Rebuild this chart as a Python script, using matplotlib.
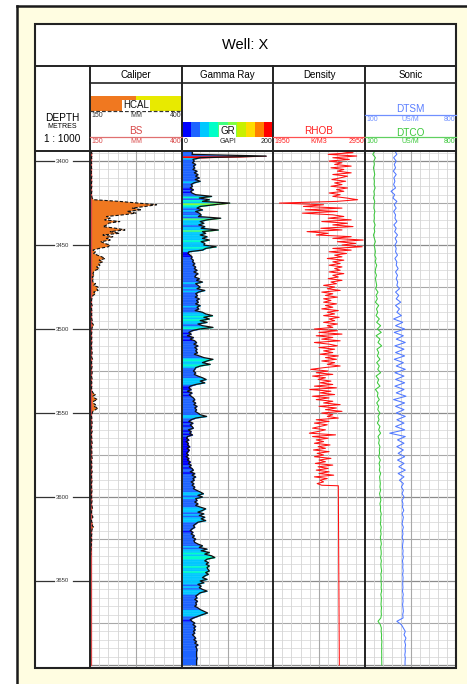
import numpy as np
import matplotlib
matplotlib.use("Agg")
import matplotlib.pyplot as plt
from matplotlib.patches import Rectangle

plt.rcParams['font.family'] = ['Liberation Sans', 'DejaVu Sans']

# ---------------------------------------------------------------- data
well_name = "Well: X"
track_names = ["Caliper", "Gamma Ray", "Density", "Sonic"]
depth_labels = [3400, 3450, 3500, 3550, 3600, 3650]

# 1 m sampled curves, 3394 m .. 3700 m
gr = [
    21, 23, 22, 185, 40, 24, 27, 23, 30, 25,
    28, 24, 33, 27, 35, 30, 38, 29, 40, 26,
    20, 23, 18, 25, 19, 22, 30, 65, 38, 60,
    45, 105, 70, 40, 33, 45, 30, 38, 42, 36,
    85, 55, 40, 48, 37, 50, 42, 80, 45, 52,
    40, 55, 45, 60, 42, 50, 48, 75, 52, 45,
    15, 13, 18, 22, 20, 25, 23, 28, 24, 30,
    27, 33, 26, 35, 30, 28, 38, 32, 45, 30,
    35, 40, 33, 50, 36, 30, 34, 29, 38, 32,
    36, 30, 40, 33, 37, 29, 45, 52, 67, 48,
    60, 40, 55, 35, 45, 68, 38, 22, 15, 20,
    12, 25, 18, 28, 32, 26, 35, 28, 33, 30,
    34, 27, 38, 48, 68, 55, 45, 62, 40, 30,
    28, 25, 30, 27, 35, 45, 53, 40, 50, 30,
    18, 15, 20, 12, 22, 16, 20, 25, 28, 24,
    30, 26, 33, 28, 32, 29, 35, 40, 54, 30,
    20, 15, 24, 18, 22, 25, 14, 20, 17, 23,
    12, 10, 15, 9, 14, 12, 17, 11, 16, 13,
    10, 14, 9, 15, 12, 18, 14, 20, 16, 22,
    25, 18, 28, 22, 30, 24, 27, 20, 26, 22,
    28, 25, 32, 40, 47, 35, 45, 30, 33, 28,
    35, 30, 40, 52, 45, 35, 48, 38, 50, 42,
    52, 35, 30, 25, 28, 22, 18, 24, 20, 27,
    23, 30, 26, 28, 35, 45, 38, 55, 42, 60,
    50, 65, 72, 55, 50, 58, 53, 60, 55, 57,
    60, 52, 58, 50, 45, 55, 40, 48, 35, 42,
    38, 45, 55, 40, 35, 30, 33, 28, 34, 30,
    32, 28, 35, 40, 48, 56, 45, 35, 25, 18,
    22, 28, 24, 30, 26, 29, 25, 28, 23, 27,
    30, 26, 32, 28, 35, 30, 32, 33, 32, 32,
    32, 32, 33, 32, 32, 32, 32,
]

hcal = [
    155, 154, 156, 155, 154, 155, 153, 154, 155, 154,
    154, 155, 154, 153, 154, 155, 154, 154, 155, 154,
    154, 155, 154, 153, 155, 154, 154, 155, 156, 160,
    230, 280, 331, 300, 265, 290, 250, 275, 240, 195,
    205, 190, 231, 200, 196, 185, 220, 245, 205, 230,
    185, 212, 195, 205, 180, 190, 204, 200, 175, 158,
    165, 160, 170, 182, 191, 175, 185, 172, 177, 168,
    175, 165, 160, 158, 162, 156, 160, 157, 158, 165,
    160, 172, 168, 172, 160, 165, 158, 156, 155, 154,
    155, 154, 156, 155, 154, 155, 156, 154, 155, 154,
    155, 156, 154, 158, 160, 156, 155, 154, 155, 154,
    154, 155, 154, 156, 155, 154, 155, 154, 155, 154,
    156, 155, 154, 155, 157, 155, 154, 155, 156, 155,
    154, 155, 156, 155, 154, 155, 156, 154, 155, 154,
    155, 154, 155, 156, 158, 165, 158, 162, 170, 160,
    158, 165, 160, 172, 165, 158, 156, 155, 154, 155,
    154, 155, 156, 154, 155, 154, 155, 156, 154, 155,
    154, 155, 154, 155, 156, 155, 154, 155, 154, 155,
    155, 154, 155, 156, 155, 154, 155, 154, 155, 154,
    155, 156, 154, 155, 154, 155, 156, 155, 154, 155,
    154, 155, 156, 155, 154, 155, 154, 155, 156, 155,
    154, 155, 156, 157, 155, 154, 155, 156, 158, 155,
    154, 155, 158, 156, 160, 156, 155, 154, 155, 154,
    155, 154, 155, 153, 154, 153, 154, 153, 152, 153,
    152, 151, 152, 150, 151, 150, 151, 150, 150, 151,
    150, 151, 150, 150, 151, 150, 151, 150, 150, 151,
    150, 151, 150, 150, 151, 150, 150, 151, 150, 150,
    151, 150, 150, 151, 150, 150, 151, 150, 150, 151,
    150, 150, 151, 150, 150, 151, 150, 150, 151, 150,
    150, 151, 150, 150, 151, 150, 150, 151, 150, 150,
    151, 150, 150, 151, 150, 150, 150,
]
bit_size = 152.4

# density, 1 m sampled from 3394 m to 3593 m, then the flat tail
rhob = [
    2650, 2820, 2550, 2860, 2600, 2780, 2560, 2700, 2620, 2800,
    2580, 2720, 2650, 2800, 2600, 2760, 2680, 2590, 2740, 2620,
    2700, 2580, 2760, 2640, 2720, 2560, 2680, 2600, 2750, 2870,
    2640, 2020, 2500, 2280, 2700, 2300, 2650, 2270, 2600, 2720,
    2550, 2800, 2480, 2760, 2600, 2820, 2470, 2700, 2320, 2550,
    2420, 2800, 2600, 2930, 2650, 2850, 2700, 2920, 2600, 2800,
    2560, 2750, 2620, 2700, 2540, 2720, 2600, 2680, 2560, 2700,
    2620, 2680, 2560, 2720, 2600, 2660, 2550, 2700, 2580, 2640,
    2500, 2620, 2540, 2680, 2480, 2600, 2520, 2650, 2500, 2580,
    2500, 2640, 2520, 2600, 2480, 2660, 2540, 2620, 2500, 2670,
    2560, 2620, 2500, 2650, 2540, 2600, 2400, 2650, 2450, 2700,
    2420, 2600, 2480, 2680, 2400, 2560, 2650, 2450, 2620, 2500,
    2600, 2460, 2660, 2520, 2640, 2480, 2620, 2540, 2680, 2500,
    2360, 2550, 2420, 2600, 2380, 2520, 2440, 2580, 2460, 2600,
    2400, 2640, 2350, 2580, 2460, 2620, 2380, 2560, 2420, 2600,
    2500, 2680, 2450, 2640, 2520, 2700, 2480, 2600, 2540, 2660,
    2420, 2560, 2400, 2540, 2460, 2380, 2520, 2440, 2345, 2630,
    2380, 2550, 2420, 2500, 2400, 2570, 2440, 2520, 2390, 2560,
    2430, 2500, 2400, 2580, 2450, 2520, 2410, 2600, 2440, 2550,
    2420, 2560, 2450, 2610, 2400, 2540, 2460, 2500, 2430, 2480,
]
rhob_tail_depth = [3593.3, 3700.0]
rhob_tail = [2660, 2671]

# sonic, 2 m sampled, 3394 m .. 3700 m
dtco = [
    175, 160, 180, 168, 172, 165, 170, 175, 168, 172,
    170, 178, 168, 172, 165, 175, 170, 168, 176, 170,
    172, 168, 178, 170, 175, 165, 172, 180, 170, 176,
    180, 175, 185, 178, 190, 182, 178, 188, 180, 185,
    190, 182, 200, 185, 195, 180, 205, 188, 198, 185,
    210, 190, 220, 195, 225, 185, 215, 200, 228, 192,
    205, 195, 215, 190, 210, 198, 220, 185, 205, 195,
    215, 180, 200, 195, 210, 190, 205, 198, 215, 200,
    208, 195, 215, 205, 220, 200, 210, 205, 215, 210,
    212, 205, 218, 208, 215, 210, 220, 212, 215, 218,
    215, 220, 212, 218, 222, 215, 220, 218, 225, 220,
    222, 218, 225, 220, 224, 218, 222, 226, 220, 224,
    225, 220, 226, 222, 224, 228, 222, 225, 223, 226,
    224, 228, 222, 226, 225, 223, 227, 224, 226, 222,
    200, 218, 226, 224, 228, 226, 230, 228, 229, 228,
    229, 228, 229, 229,
]
dtsm = [
    330, 345, 320, 340, 325, 335, 318, 340, 322, 330,
    320, 335, 300, 328, 315, 345, 325, 340, 320, 335,
    330, 345, 322, 340, 328, 350, 332, 345, 330, 340,
    335, 350, 330, 345, 340, 355, 335, 350, 340, 352,
    345, 365, 335, 360, 340, 375, 335, 365, 345, 380,
    320, 390, 335, 405, 325, 395, 340, 410, 330, 400,
    335, 405, 325, 395, 340, 410, 330, 400, 335, 405,
    330, 400, 340, 415, 320, 405, 335, 400, 340, 410,
    345, 400, 335, 405, 290, 410, 350, 400, 345, 395,
    355, 405, 350, 400, 360, 410, 355, 400, 365, 395,
    380, 395, 385, 400, 385, 392, 388, 398, 385, 395,
    390, 385, 395, 388, 392, 386, 394, 390, 388, 393,
    390, 395, 388, 392, 390, 394, 389, 393, 391, 390,
    392, 388, 394, 390, 393, 389, 392, 395, 390, 393,
    345, 380, 395, 410, 400, 415, 405, 412, 408, 410,
    406, 410, 408, 408,
]

gr_colors = ['#0000FF', '#1E64FF', '#00C8FF', '#00FFC8', '#40FF80',
             '#80FF40', '#C8F000', '#FFDC00', '#FF8000', '#FF0000']

# depth grids of the sampled curves
depth_1m = np.arange(3394, 3394 + len(gr))
depth_rhob = np.concatenate([np.arange(3394, 3394 + len(rhob)), rhob_tail_depth])
rhob_all = np.concatenate([rhob, rhob_tail])
depth_2m = np.arange(3394, 3394 + 2 * len(dtco), 2)
gr = np.array(gr, float)
hcal = np.array(hcal, float)

# ---------------------------------------------------------------- layout
W, H = 467, 684
fig = plt.figure(figsize=(W / 100, H / 100), dpi=100)
fig.patch.set_facecolor('white')

TOP_D, BASE_D = 3394.0, 3701.8
X0, X1 = 35, 456
Y_TOP, Y_TITLE, Y_NAMES, Y_HEAD, Y_BOT = 24, 66, 83, 151, 668
TRACK_X = [90, 182, 273, 365, 456]


def px_axes(x0, y0, x1, y1):
    return fig.add_axes([x0 / W, 1 - y1 / H, (x1 - x0) / W, (y1 - y0) / H])


# page background: cream sheet with a frame on its left and top edges
bg = px_axes(0, 0, W, H)
bg.set_xlim(0, W)
bg.set_ylim(H, 0)
bg.axis('off')
bg.set_zorder(0)
bg.add_patch(Rectangle((17, 6), W, H, fc='#FFFDE1', ec='none'))
bg.plot([17, 17], [6, H], color='#1a1a1a', lw=1.8, solid_capstyle='projecting')
bg.plot([17, W], [6, 6], color='#1a1a1a', lw=1.8, solid_capstyle='projecting')
bg.add_patch(Rectangle((X0, Y_TOP), X1 - X0, Y_BOT - Y_TOP, fc='white', ec='none'))


def make_track(i, xlim):
    ax = px_axes(TRACK_X[i], Y_HEAD, TRACK_X[i + 1], Y_BOT)
    ax.set_zorder(1)
    ax.set_xlim(*xlim)
    ax.set_ylim(BASE_D, TOP_D)
    ax.set_xticks([])
    ax.set_yticks([])
    for s in ax.spines.values():
        s.set_visible(False)
    for d in np.arange(3395, 3705, 5):
        if d % 50 == 0:
            c, lw = '#8c8c8c', 0.9
        elif d % 25 == 0:
            c, lw = '#a8a8a8', 0.8
        else:
            c, lw = '#dcdcdc', 0.6
        ax.axhline(d, color=c, lw=lw, zorder=0)
    for k in range(1, 10):
        xv = xlim[0] + (xlim[1] - xlim[0]) * k / 10
        ax.axvline(xv, color='#a8a8a8' if k == 5 else '#d4d4d4',
                   lw=0.8 if k == 5 else 0.6, zorder=0)
    return ax


# caliper
ax_cal = make_track(0, (150, 400))
bs = np.full_like(hcal, bit_size)
ax_cal.fill_betweenx(depth_1m, bs, hcal, where=hcal >= bs, interpolate=True,
                     color='#F07820', lw=0, zorder=2)
ax_cal.fill_betweenx(depth_1m, bs, hcal, where=hcal < bs, interpolate=True,
                     color='#E8E800', lw=0, zorder=2)
ax_cal.plot(bs, depth_1m, color='#D84848', lw=0.9, zorder=3)
ax_cal.plot(hcal, depth_1m, color='#111111', lw=0.8, ls=(0, (3, 1.6)), zorder=4)

# gamma ray with value-coloured fill
ax_gr = make_track(1, (0, 200))
for i in range(len(gr) - 1):
    c = gr_colors[min(int(gr[i] // 20), 9)]
    ax_gr.fill_betweenx(depth_1m[i:i + 2], 0, gr[i:i + 2], color=c,
                        ec=c, lw=0.3, zorder=2)
ax_gr.plot(gr, depth_1m, color='#111111', lw=0.9, zorder=3)

# density
ax_den = make_track(2, (1950, 2950))
ax_den.plot(rhob_all, depth_rhob, color='#FF1010', lw=0.75, zorder=3)

# sonic
ax_son = make_track(3, (100, 800))
ax_son.plot(dtco, depth_2m, color='#3CC83C', lw=0.75, zorder=3)
ax_son.plot(dtsm, depth_2m, color='#5078FF', lw=0.75, zorder=3)

# depth column
ax_dep = px_axes(X0, Y_HEAD, TRACK_X[0], Y_BOT)
ax_dep.set_zorder(1)
ax_dep.set_xlim(0, 55)
ax_dep.set_ylim(BASE_D, TOP_D)
ax_dep.axis('off')
for d in depth_labels:
    ax_dep.plot([0, 19], [d, d], color='#333333', lw=0.9)
    ax_dep.plot([38, 55], [d, d], color='#333333', lw=0.9)
    ax_dep.text(27.5, d, str(d), ha='center', va='center', fontsize=4.3,
                color='#333333')

# ---------------------------------------------------------------- frame and headers
ov = px_axes(0, 0, W, H)
ov.set_xlim(0, W)
ov.set_ylim(H, 0)
ov.axis('off')
ov.set_zorder(5)
ov.patch.set_alpha(0)

edge = '#222222'
ov.add_patch(Rectangle((X0, Y_TOP), X1 - X0, Y_BOT - Y_TOP, fill=False, ec=edge, lw=1.5))
ov.plot([X0, X1], [Y_TITLE, Y_TITLE], color=edge, lw=1.4)
ov.plot([TRACK_X[0], X1], [Y_NAMES, Y_NAMES], color=edge, lw=1.2)
ov.plot([X0, X1], [Y_HEAD, Y_HEAD], color=edge, lw=1.4)
for xv in TRACK_X[:-1]:
    ov.plot([xv, xv], [Y_TITLE, Y_BOT], color=edge, lw=1.4)

ov.text((X0 + X1) / 2, 45, well_name, ha='center', va='center', fontsize=10.5)
for i, name in enumerate(track_names):
    ov.text((TRACK_X[i] + TRACK_X[i + 1]) / 2, 75, name, ha='center',
            va='center', fontsize=7)

ov.text(62.5, 118, "DEPTH", ha='center', va='center', fontsize=7.3)
ov.text(62.5, 127, "METRES", ha='center', va='center', fontsize=5)
ov.text(62.5, 138.5, "1 : 1000", ha='center', va='center', fontsize=7.2)


def scale_row(x0, x1, y, lo, unit, hi, color):
    kw = dict(fontsize=5, color=color, va='top')
    ov.text(x0 + 1.5, y, lo, ha='left', **kw)
    ov.text((x0 + x1) / 2, y, unit, ha='center', **kw)
    ov.text(x1 - 1, y, hi, ha='right', **kw)


def label_box(x, y, text, color='#111111'):
    ov.text(x, y, text, ha='center', va='center', fontsize=7, color=color,
            bbox=dict(fc='white', ec='none', pad=0.6))


# caliper header
cx0, cx1 = TRACK_X[0], TRACK_X[1]
ov.add_patch(Rectangle((cx0, 96), (cx1 - cx0) / 2, 15, fc='#F07820', ec='none'))
ov.add_patch(Rectangle(((cx0 + cx1) / 2, 96), (cx1 - cx0) / 2, 15, fc='#E8EA00', ec='none'))
ov.plot([cx0, cx1], [111, 111], color='#333333', lw=0.9, ls=(0, (3, 1.6)))
label_box((cx0 + cx1) / 2, 105.5, "HCAL")
scale_row(cx0, cx1, 112.3, "150", "MM", "400", '#333333')
ov.text((cx0 + cx1) / 2, 131, "BS", ha='center', va='center', fontsize=7.2, color='#D84848')
ov.plot([cx0, cx1], [137, 137], color='#E07070', lw=0.9)
scale_row(cx0, cx1, 138.3, "150", "MM", "400", '#D84848')

# gamma ray header
gx0, gx1 = TRACK_X[1], TRACK_X[2]
seg = (gx1 - gx0) / len(gr_colors)
for k, c in enumerate(gr_colors):
    ov.add_patch(Rectangle((gx0 + k * seg, 122), seg + 0.2, 15, fc=c, ec='none'))
label_box((gx0 + gx1) / 2, 131, "GR")
scale_row(gx0, gx1, 138.3, "0", "GAPI", "200", '#222222')

# density header
dx0, dx1 = TRACK_X[2], TRACK_X[3]
ov.text((dx0 + dx1) / 2, 131, "RHOB", ha='center', va='center', fontsize=7.2, color='#FF2020')
ov.plot([dx0, dx1], [137, 137], color='#FF5050', lw=0.9)
scale_row(dx0, dx1, 138.3, "1950", "K/M3", "2950", '#FF2020')

# sonic header
sx0, sx1 = TRACK_X[3], TRACK_X[4]
ov.text((sx0 + sx1) / 2, 109, "DTSM", ha='center', va='center', fontsize=7.2, color='#5B7FFF')
ov.plot([sx0, sx1], [115, 115], color='#7090FF', lw=0.9)
scale_row(sx0, sx1, 116.3, "100", "US/M", "800", '#7090FF')
ov.text((sx0 + sx1) / 2, 132.5, "DTCO", ha='center', va='center', fontsize=7.2, color='#3CC83C')
ov.plot([sx0, sx1], [137, 137], color='#60D060', lw=0.9)
scale_row(sx0, sx1, 138.3, "100", "US/M", "800", '#3CC83C')

fig.savefig("out.png", dpi=100, facecolor=fig.get_facecolor())
